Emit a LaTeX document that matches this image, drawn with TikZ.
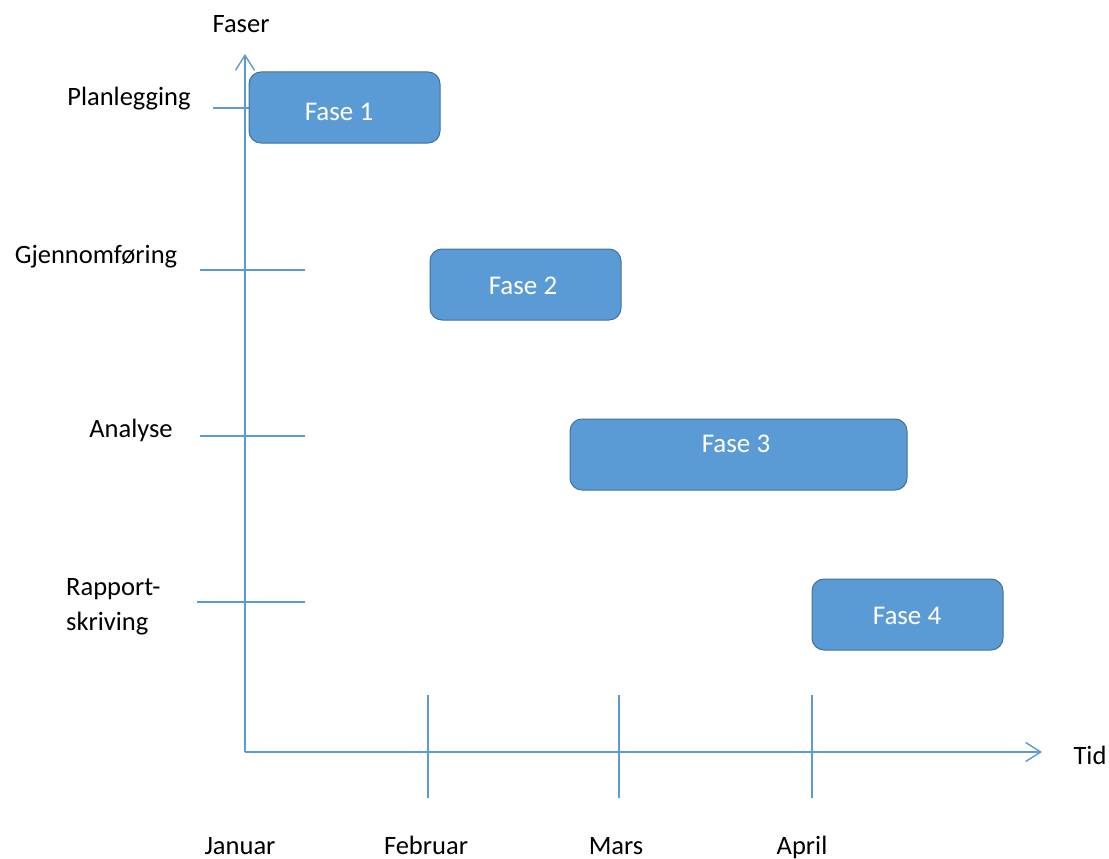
\documentclass[tikz,border=0pt]{standalone}
\usepackage{fontspec}
\setmainfont{Carlito}
\usetikzlibrary{arrows.meta}
\definecolor{axisblue}{HTML}{5B9BD5}
\definecolor{boxfill}{HTML}{5B9BD5}
\definecolor{boxline}{HTML}{41719C}
\tikzset{
  axis/.style={draw=axisblue, line width=1.4pt},
  tick/.style={draw=axisblue, line width=1.4pt},
  fase/.style={draw=boxline, fill=boxfill, line width=1pt, rounded corners=12pt, text=white, font=\fontsize{27}{32}\selectfont},
  lbl/.style={font=\fontsize{26.5}{32}\selectfont, text=black, inner sep=0pt},
  tip/.style={-{Straight Barb[length=15pt,width=19pt,line width=1.4pt]}}
}
\begin{document}
\begin{tikzpicture}[x=1pt,y=-1pt]
\useasboundingbox (0,0) rectangle (1109,859);
% axes
\coordinate (O) at (245,752);
\coordinate (ytop) at (245,54);
\coordinate (xend) at (1042,752);
\draw[axis,tip] (O) -- (ytop);
\draw[axis,tip] (O) -- (xend);
% horizontal ticks
\coordinate (h1a) at (213,108); \coordinate (h1b) at (250,108);
\coordinate (h2a) at (200,270); \coordinate (h2b) at (305,270);
\coordinate (h3a) at (200,436); \coordinate (h3b) at (305,436);
\coordinate (h4a) at (197,602); \coordinate (h4b) at (305,602);
\draw[tick] (h1a) -- (h1b);
\draw[tick] (h2a) -- (h2b);
\draw[tick] (h3a) -- (h3b);
\draw[tick] (h4a) -- (h4b);
% vertical ticks
\coordinate (v1a) at (428,695); \coordinate (v1b) at (428,798);
\coordinate (v2a) at (619,695); \coordinate (v2b) at (619,798);
\coordinate (v3a) at (812,695); \coordinate (v3b) at (812,798);
\draw[tick] (v1a) -- (v1b);
\draw[tick] (v2a) -- (v2b);
\draw[tick] (v3a) -- (v3b);
% boxes
\draw[fase] (249,72) rectangle (440,143);
\node[fase, draw=none, fill=none] (f1) at (339,112) {Fase 1};
\draw[fase] (430,249) rectangle (621,320);
\node[fase, draw=none, fill=none] (f2) at (523,286) {Fase 2};
\draw[fase] (570,419) rectangle (907,490);
\node[fase, draw=none, fill=none] (f3) at (736,444) {Fase 3};
\draw[fase] (812,579) rectangle (1003,650);
\node[fase, draw=none, fill=none] (f4) at (907,616) {Fase 4};
% labels
\node[lbl] (faser) at (241,24) {Faser};
\node[lbl] (tid) at (1090,755) {Tid};
\node[lbl] (plan) at (129,99) {Planlegging};
\node[lbl] (gjen) at (96,257) {Gjennomføring};
\node[lbl] (anal) at (131,430) {Analyse};
\node[lbl, align=left, anchor=west] (rapp) at (66,607) {Rapport-\\[3pt]skriving};
\node[lbl, anchor=base] (jan) at (240,854) {Januar};
\node[lbl, anchor=base] (feb) at (426,854) {Februar};
\node[lbl, anchor=base] (mar) at (616,854) {Mars};
\node[lbl, anchor=base] (apr) at (802,854) {April};
\end{tikzpicture}
\end{document}
